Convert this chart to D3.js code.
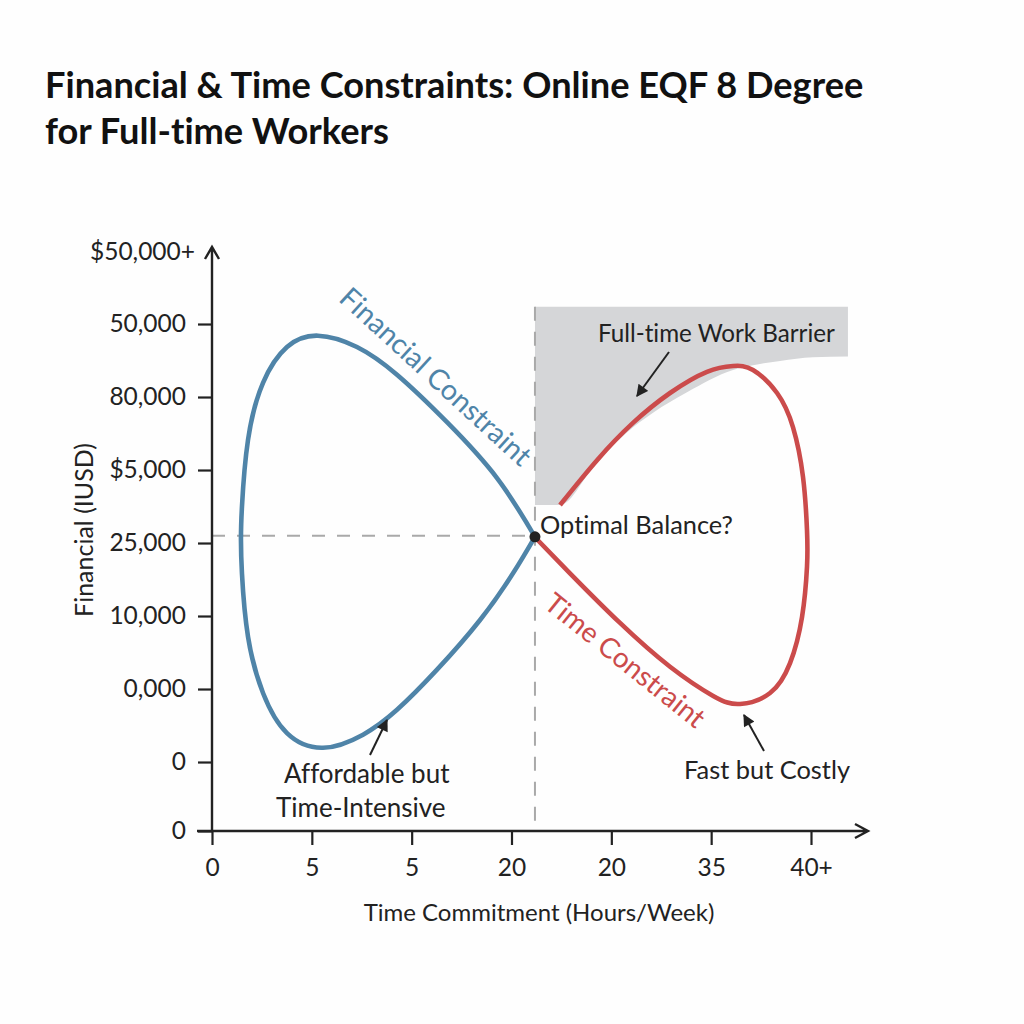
<!DOCTYPE html>
<html>
<head>
<meta charset="utf-8">
<script src="https://cdn.jsdelivr.net/npm/d3@7"></script>
<style>
html, body { margin: 0; padding: 0; background: #fefefe; }
text { font-family: Lato, sans-serif; fill: #222; font-variant-ligatures: none; }
</style>
</head>
<body>
<script>
// tick labels, as printed on the chart
var xLabels = ['0', '5', '5', '20', '20', '35', '40+'];
var xTicks = [0, 1, 2, 3, 4, 5, 6];
var yLabels = ['0', '0', '0,000', '10,000', '25,000', '$5,000', '80,000', '50,000', '$50,000+'];
var yTicks = [0, 0.945, 1.945, 2.945, 3.945, 4.945, 5.945, 6.945, 7.93];

// curves, in axis units
var financialX = [3.235, 2.855, 2.354, 1.853, 1.452, 1.062, 0.751, 0.511, 0.361, 0.30, 0.29, 0.30, 0.361, 0.511, 0.751, 1.112, 1.513, 1.853, 2.254, 2.685, 3.015, 3.235];
var financialY = [4.03, 4.835, 5.60, 6.25, 6.63, 6.785, 6.63, 6.14, 5.36, 4.44, 3.99, 3.53, 2.66, 1.89, 1.34, 1.14, 1.32, 1.66, 2.21, 2.89, 3.53, 4.03];
var timeX = [3.486, 3.857, 4.217, 4.588, 4.958, 5.219, 5.419, 5.66, 5.82, 5.92, 5.96, 5.96, 5.91, 5.79, 5.59, 5.29, 5.02, 4.588, 4.087, 3.586, 3.245];
var timeY = [4.466, 5.08, 5.59, 6.0, 6.29, 6.37, 6.315, 6.0, 5.53, 4.85, 4.12, 3.62, 2.93, 2.30, 1.89, 1.74, 1.85, 2.25, 2.85, 3.53, 4.01];

// grey barrier region: lower edge, the top is flat
var barrierX = [3.235, 3.486, 3.857, 4.147, 4.418, 4.758, 5.219, 5.419, 5.69, 6.02, 6.37];
var barrierY = [4.466, 4.466, 5.06, 5.45, 5.73, 6.01, 6.315, 6.38, 6.44, 6.49, 6.5];
var barrierTop = 7.18;

var balanceX = 3.235;
var balanceY = 4.03;

var width = 1024, height = 1024;
var x = d3.scaleLinear().domain([0, 6]).range([212, 811]);
var y = d3.scaleLinear().domain([0, 8]).range([831, 247]);

var blue = '#4f84a8', red = '#cb4b4b';

var svg = d3.select('body').append('svg')
    .attr('width', width)
    .attr('height', height)
    .style('display', 'block');

svg.append('defs').append('marker')
    .attr('id', 'head')
    .attr('viewBox', '0 0 10 10')
    .attr('refX', 9)
    .attr('refY', 5)
    .attr('markerWidth', 13)
    .attr('markerHeight', 12)
    .attr('markerUnits', 'userSpaceOnUse')
    .attr('orient', 'auto')
    .append('path')
    .attr('d', 'M0,0L10,5L0,10Z')
    .attr('fill', '#222');

// title
svg.selectAll('.title')
    .data(['Financial & Time Constraints: Online EQF 8 Degree', 'for Full-time Workers'])
    .enter().append('text')
    .attr('class', 'title')
    .attr('x', 45)
    .attr('y', function (d, i) { return 98 + i * 46; })
    .attr('font-size', 36.2)
    .attr('font-weight', 'bold')
    .style('fill', '#111')
    .text(function (d) { return d; });

// barrier area
var area = d3.area()
    .x(function (d) { return x(d[0]); })
    .y0(y(barrierTop))
    .y1(function (d) { return y(d[1]); })
    .curve(d3.curveMonotoneX);

svg.append('path')
    .attr('d', area(d3.zip(barrierX, barrierY)))
    .attr('fill', '#d5d6d8');

// guide lines through the balance point
svg.append('line')
    .attr('x1', x(0)).attr('x2', x(balanceX))
    .attr('y1', y(balanceY) - 1).attr('y2', y(balanceY) - 1)
    .attr('stroke', '#a9a9a9').attr('stroke-width', 2).attr('stroke-dasharray', '13,12');
svg.append('line')
    .attr('x1', x(balanceX)).attr('x2', x(balanceX))
    .attr('y1', y(barrierTop)).attr('y2', y(0))
    .attr('stroke', '#a9a9a9').attr('stroke-width', 2).attr('stroke-dasharray', '14,11');

// curves
var line = d3.line()
    .x(function (d) { return x(d[0]); })
    .y(function (d) { return y(d[1]); })
    .curve(d3.curveNatural);

svg.append('path')
    .attr('d', line(d3.zip(financialX, financialY)))
    .attr('fill', 'none').attr('stroke', blue).attr('stroke-width', 4.6);
svg.append('path')
    .attr('d', line(d3.zip(timeX, timeY)))
    .attr('fill', 'none').attr('stroke', red).attr('stroke-width', 4.6);

svg.append('circle')
    .attr('cx', x(balanceX)).attr('cy', y(balanceY))
    .attr('r', 5.5).attr('fill', '#222');

// axes
var xAxis = d3.axisBottom(x)
    .tickValues(xTicks)
    .tickSize(14)
    .tickPadding(14)
    .tickFormat(function (d, i) { return xLabels[i]; });
var yAxis = d3.axisLeft(y)
    .tickValues(yTicks)
    .tickSize(14)
    .tickPadding(12)
    .tickFormat(function (d, i) { return yLabels[i]; });

var gx = svg.append('g').attr('transform', 'translate(0,' + y(0) + ')').call(xAxis);
var gy = svg.append('g').attr('transform', 'translate(' + x(0) + ',0)').call(yAxis);

gx.select('.domain').remove();
gy.select('.domain').remove();
gx.selectAll('line').attr('stroke', '#222').attr('stroke-width', 2.2);
gy.selectAll('line').attr('stroke', '#222').attr('stroke-width', 2.2);
gx.selectAll('text').attr('font-size', 24.5).style('font-family', 'Lato, sans-serif');
gy.selectAll('text').attr('font-size', 24.5).style('font-family', 'Lato, sans-serif');

// top label has no tick and sits closer to the axis
gy.selectAll('.tick').filter(function (d) { return d === 7.93; })
    .each(function () {
        d3.select(this).select('line').remove();
        d3.select(this).select('text').attr('x', -17);
    });

// axis lines with open arrow ends
svg.append('path')
    .attr('d', 'M' + x(0) + ',' + y(0) + 'V' + y(8) + 'M' + (x(0) - 7) + ',' + (y(8) + 12) + 'L' + x(0) + ',' + y(8) + 'L' + (x(0) + 7) + ',' + (y(8) + 12))
    .attr('fill', 'none').attr('stroke', '#222').attr('stroke-width', 2.4);
svg.append('path')
    .attr('d', 'M197,' + y(0) + 'H868M855,' + (y(0) - 7) + 'L868,' + y(0) + 'L855,' + (y(0) + 7))
    .attr('fill', 'none').attr('stroke', '#222').attr('stroke-width', 2.4);

// axis titles
svg.append('text')
    .attr('x', 539).attr('y', 921)
    .attr('text-anchor', 'middle')
    .attr('font-size', 24)
    .text('Time Commitment (Hours/Week)');
svg.append('text')
    .attr('transform', 'translate(93,530) rotate(-90)')
    .attr('text-anchor', 'middle')
    .attr('font-size', 25)
    .text('Financial (IUSD)');

// curve names
svg.append('text')
    .attr('transform', 'translate(429,384) rotate(42.5)')
    .attr('text-anchor', 'middle')
    .attr('font-size', 28.5)
    .style('fill', blue)
    .text('Financial Constraint');
svg.append('text')
    .attr('transform', 'translate(619,668) rotate(38.7)')
    .attr('text-anchor', 'middle')
    .attr('font-size', 28)
    .style('fill', red)
    .text('Time Constraint');

// annotations
var notes = [
    { text: 'Optimal Balance?', x: 540, y: 534, size: 25.4 },
    { text: 'Full-time Work Barrier', x: 598, y: 342, size: 24.2 },
    { text: 'Affordable but', x: 284, y: 783, size: 26 },
    { text: 'Time-Intensive', x: 276, y: 817, size: 26 },
    { text: 'Fast but Costly', x: 684, y: 779, size: 25.4 }
];
svg.selectAll('.note')
    .data(notes)
    .enter().append('text')
    .attr('class', 'note')
    .attr('x', function (d) { return d.x; })
    .attr('y', function (d) { return d.y; })
    .attr('font-size', function (d) { return d.size; })
    .text(function (d) { return d.text; });

var arrows = [
    [669, 352, 637, 396],
    [370, 755, 387, 720],
    [764, 751, 744, 715]
];
svg.selectAll('.arrow')
    .data(arrows)
    .enter().append('line')
    .attr('class', 'arrow')
    .attr('x1', function (d) { return d[0]; })
    .attr('y1', function (d) { return d[1]; })
    .attr('x2', function (d) { return d[2]; })
    .attr('y2', function (d) { return d[3]; })
    .attr('stroke', '#222')
    .attr('stroke-width', 2)
    .attr('marker-end', 'url(#head)');
</script>
</body>
</html>
